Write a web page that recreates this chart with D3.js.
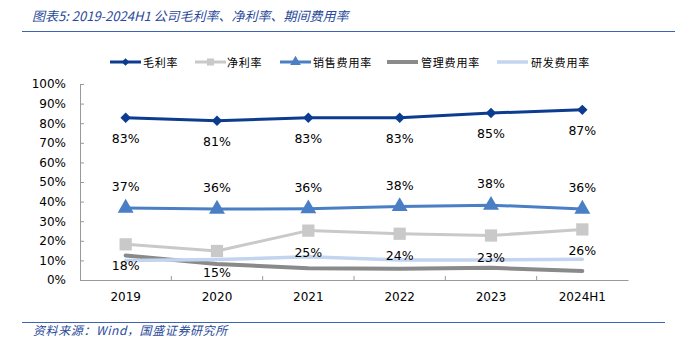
<!DOCTYPE html>
<html><head><meta charset="utf-8">
<script src="https://cdn.jsdelivr.net/npm/d3@7"></script>
<style>body{margin:0;background:#fff;}svg{display:block;}</style>
</head><body>
<svg id="c" width="675" height="344"></svg>
<script>
const categories = ["2019","2020","2021","2022","2023","2024H1"];
const grossMargin = [82.8, 81.2, 82.8, 82.8, 85.2, 86.8];
const netMargin = [18.2, 14.8, 25.2, 23.6, 22.7, 25.8];
const sellingRate = [36.7, 36.2, 36.4, 37.5, 38.2, 36.2];
const adminRate = [12.5, 8.2, 6.0, 5.8, 6.2, 4.6];
const rdRate = [10.0, 10.4, 11.8, 10.2, 10.2, 10.6];
const yTicks = [0,10,20,30,40,50,60,70,80,90,100];
const seriesNames = ["毛利率","净利率","销售费用率","管理费用率","研发费用率"];

const svg = d3.select("#c");
const x = d3.scaleBand().domain(categories).range([80, 628]);
const y = d3.scaleLinear().domain([0,100]).range([280, 84]);
const cx = d => x(d) + x.bandwidth()/2;
const numFont = "'DejaVu Sans', Verdana, sans-serif";
const cjkFont = "'Noto Sans CJK SC', sans-serif";

// title
svg.append("text").attr("x",32).attr("y",21)
  .attr("font-family", cjkFont).attr("font-style","italic").attr("font-size",13)
  .attr("fill","#2a4a9a").text("图表5:  2019-2024H1 公司毛利率、净利率、期间费用率");
svg.append("line").attr("x1",22).attr("x2",675).attr("y1",31.5).attr("y2",31.5)
  .attr("stroke","#3c64b4").attr("stroke-width",1.2);
// footer
svg.append("line").attr("x1",22).attr("x2",665).attr("y1",322.5).attr("y2",322.5)
  .attr("stroke","#3c64b4").attr("stroke-width",1.2);
svg.append("text").attr("x",33).attr("y",335)
  .attr("font-family", cjkFont).attr("font-style","italic").attr("font-size",12)
  .attr("letter-spacing",0.6)
  .attr("fill","#2a4a9a").text("资料来源：Wind，国盛证券研究所");

// axes
const yAxis = d3.axisLeft(y).tickValues(yTicks).tickSize(-4).tickPadding(14).tickFormat(d=>d+"%");
const gy = svg.append("g").attr("transform","translate(80,0)").call(yAxis);
gy.selectAll("text").attr("font-family",numFont).attr("font-size",12).attr("fill","#000");
gy.selectAll("line,path").attr("stroke","#999");

const xAxis = d3.axisBottom(x).tickSize(0).tickPadding(12);
const gx = svg.append("g").attr("transform","translate(0,280)").call(xAxis);
gx.selectAll("text").attr("font-family",numFont).attr("font-size",12).attr("fill","#000");
gx.select("path").attr("stroke","#999");
// inward category separators
const bounds = d3.range(1, categories.length).map(i => 80 + i*x.bandwidth());
svg.append("g").selectAll("line").data(bounds).join("line")
  .attr("x1",d=>d).attr("x2",d=>d).attr("y1",276).attr("y2",280).attr("stroke","#999");

const line = d3.line().x((d,i)=>cx(categories[i])).y(d=>y(d));

function drawLine(data, color, w){
  svg.append("path").datum(data).attr("d",line).attr("fill","none")
    .attr("stroke",color).attr("stroke-width",w).attr("stroke-linejoin","round").attr("stroke-linecap","round");
}
const cGross="#0c3c8f", cNet="#c9c9c9", cSell="#4a7fc6", cAdmin="#8a8a8a", cRd="#c3d4ee";

drawLine(adminRate, cAdmin, 4);
drawLine(rdRate, cRd, 3.5);
drawLine(netMargin, cNet, 3);
drawLine(sellingRate, cSell, 3);
drawLine(grossMargin, cGross, 3);

const sym = (type,size) => d3.symbol().type(type).size(size)();
function markers(data, type, size, color, rot){
  svg.append("g").selectAll("path").data(data).join("path")
    .attr("d", sym(type,size))
    .attr("transform",(d,i)=>`translate(${cx(categories[i])},${y(d)})${rot?" rotate(45)":""}`)
    .attr("fill",color);
}
markers(netMargin, d3.symbolSquare, 150, cNet);
markers(sellingRate, d3.symbolTriangle, 110, cSell);
markers(grossMargin, d3.symbolSquare, 55, cGross, true);

function labels(data, dy){
  svg.append("g").selectAll("text").data(data).join("text")
    .attr("x",(d,i)=>cx(categories[i])).attr("y",d=>y(d)+dy)
    .attr("text-anchor","middle").attr("font-family",numFont).attr("font-size",12.5)
    .attr("fill","#000").text(d=>Math.round(d)+"%");
}
labels(grossMargin, 25);
labels(sellingRate, -17);
labels(netMargin, 26);

// legend
const legend = [
  {name:seriesNames[0], color:cGross, x1:110, tx:143, mk:"diamond", w:3},
  {name:seriesNames[1], color:cNet, x1:195, tx:227, mk:"square", w:3},
  {name:seriesNames[2], color:cSell, x1:280, tx:313, mk:"tri", w:3},
  {name:seriesNames[3], color:cAdmin, x1:387, tx:421, mk:null, w:4},
  {name:seriesNames[4], color:cRd, x1:497, tx:531, mk:null, w:3.5}
];
const lg = svg.append("g");
legend.forEach(l=>{
  lg.append("line").attr("x1",l.x1).attr("x2",l.x1+31).attr("y1",62).attr("y2",62)
    .attr("stroke",l.color).attr("stroke-width",l.w);
  const mx = l.x1+15.5;
  if(l.mk==="diamond") lg.append("path").attr("d",sym(d3.symbolSquare,30)).attr("transform",`translate(${mx},62) rotate(45)`).attr("fill",l.color);
  if(l.mk==="square") lg.append("path").attr("d",sym(d3.symbolSquare,50)).attr("transform",`translate(${mx},62)`).attr("fill",l.color);
  if(l.mk==="tri") lg.append("path").attr("d",sym(d3.symbolTriangle,50)).attr("transform",`translate(${mx},62)`).attr("fill",l.color);
  lg.append("text").attr("x",l.tx).attr("y",66.5).attr("font-family",cjkFont).attr("font-size",11)
    .attr("letter-spacing",0.8).attr("fill","#000").text(l.name);
});
</script>
</body></html>
